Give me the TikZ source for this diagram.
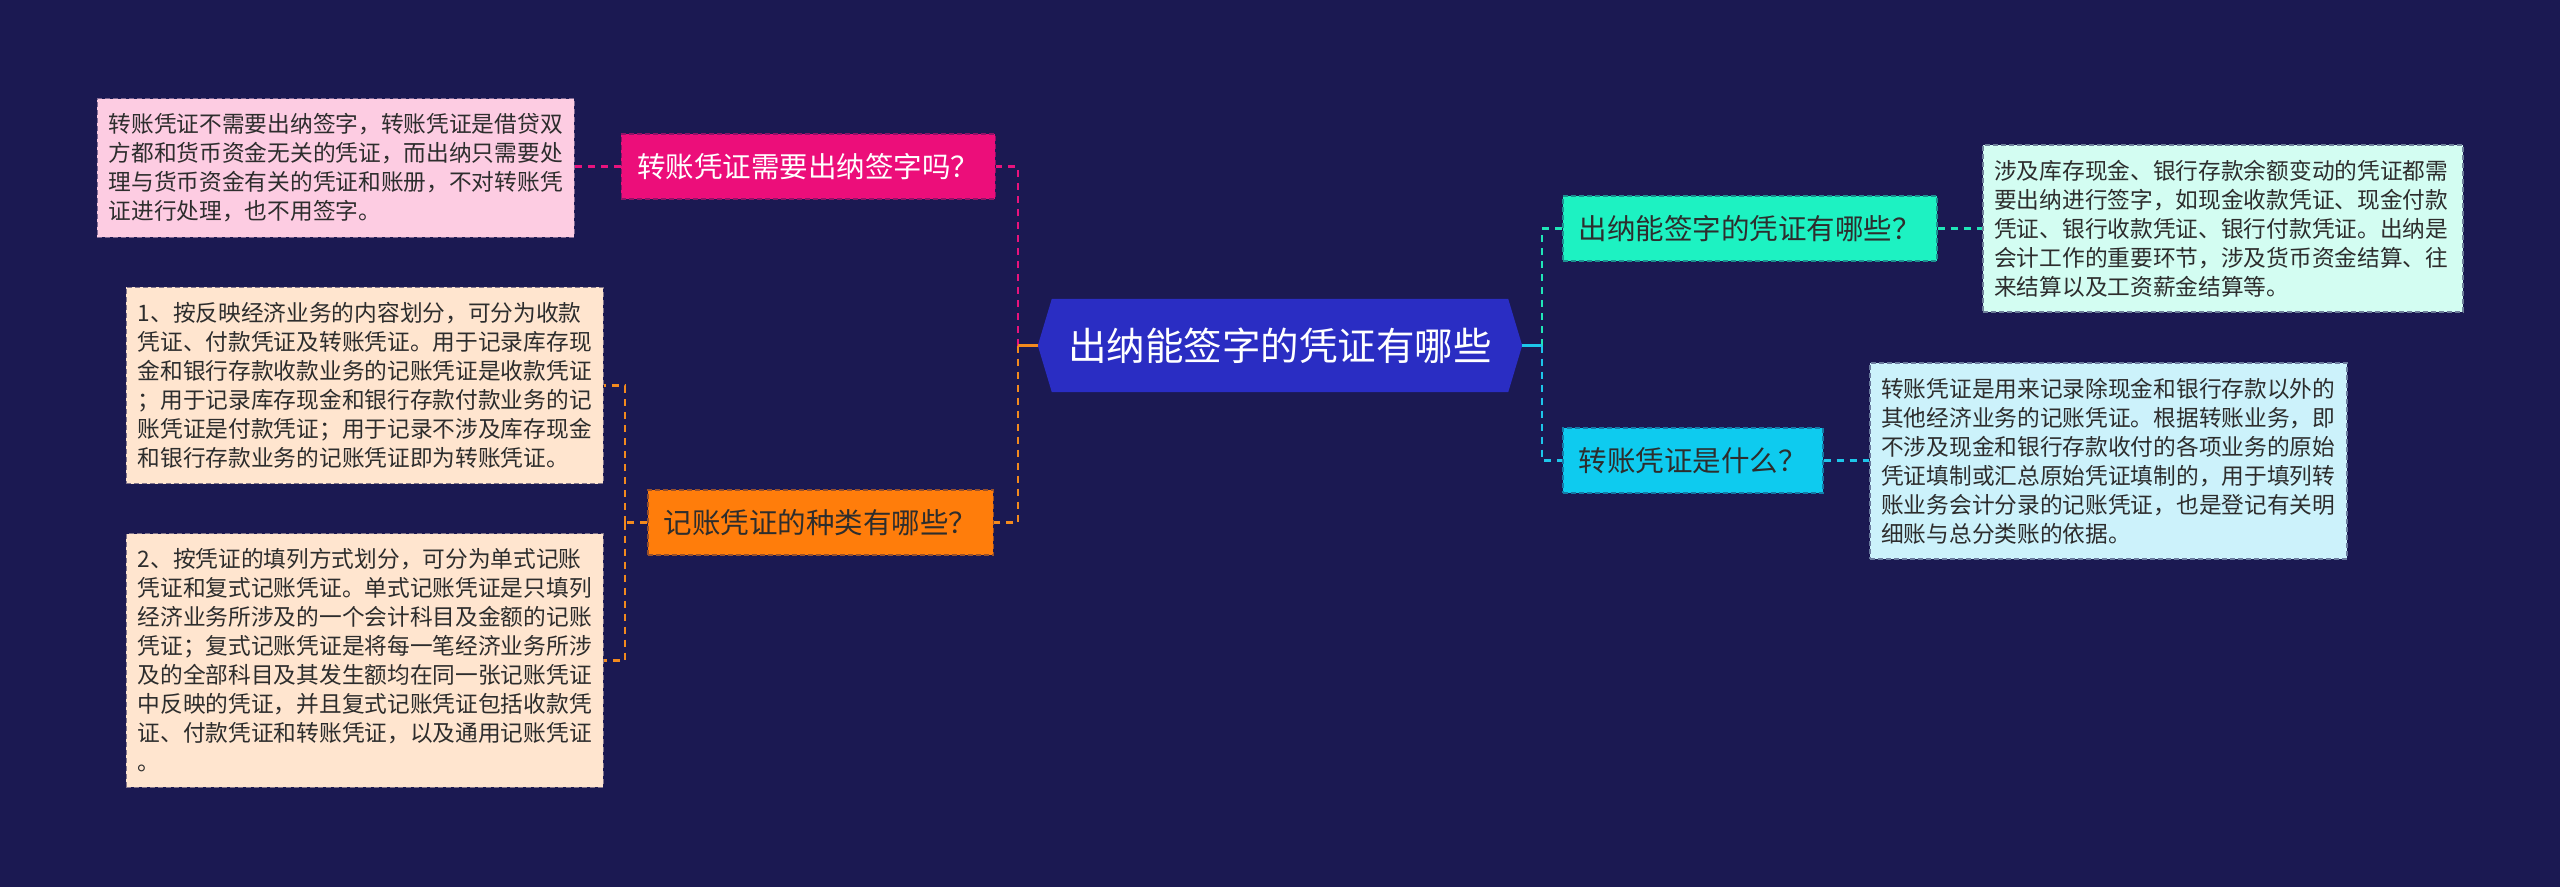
\documentclass[tikz,border=0pt]{standalone}
\usepackage{fontspec}
\setmainfont{Noto Sans CJK SC}
\usetikzlibrary{backgrounds}
\definecolor{bgc}{RGB}{27,25,82}
\definecolor{hexc}{RGB}{42,45,195}
\definecolor{pinkq}{HTML}{EC0E7A}
\definecolor{pinkt}{HTML}{FDCCE2}
\definecolor{orangeq}{HTML}{FF7D0B}
\definecolor{oranget}{HTML}{FFE5CF}
\definecolor{greenq}{HTML}{1DF2C2}
\definecolor{greent}{HTML}{D3FDF2}
\definecolor{cyanq}{HTML}{0ECBEF}
\definecolor{cyant}{HTML}{CCF2FB}
\definecolor{lpink}{HTML}{E8137D}
\definecolor{lorange}{HTML}{F28A1E}
\definecolor{lteal}{HTML}{20E6B8}
\definecolor{lcyan}{HTML}{1DC6EA}
\definecolor{txt}{HTML}{2D2D2D}
\tikzset{
  tbox/.style={fill=#1, draw=#1!45!bgc, dash pattern=on 5pt off 3pt, line width=1.5pt,
    text=txt, align=left, text width=454pt, inner xsep=11.5pt, inner ysep=15pt,
    font=\fontsize{22.7}{29}\selectfont},
  qbox/.style={fill=#1, draw=#1!55!bgc, dash pattern=on 5pt off 3pt, line width=1.5pt,
    minimum height=65pt, inner xsep=16pt, inner ysep=0pt, text=txt,
    font=\fontsize{28.5}{34}\selectfont},
  link/.style={line width=2.5pt, dash pattern=on 7pt off 6pt},
  stub/.style={line width=3pt},
  centre/.style={minimum width=456pt, minimum height=93pt, inner sep=0pt, text=white,
    font=\fontsize{38.5}{44}\selectfont}
}
\begin{document}
\begin{tikzpicture}[x=1pt,y=-1pt]
\useasboundingbox (0,0) rectangle (2560,887);

% central
\node[centre] (c) at (1280,345.5) {出纳能签字的凭证有哪些};

% left
\node[qbox=pinkq, text=white, anchor=east] (pq) at (996,166.5) {转账凭证需要出纳签字吗？};
\node[tbox=pinkt, anchor=east] (pt) at (575,168) {转账凭证不需要出纳签字，转账凭证是借贷双\\方都和货币资金无关的凭证，而出纳只需要处\\理与货币资金有关的凭证和账册，不对转账凭\\证进行处理，也不用签字。};
\node[qbox=orangeq, anchor=east] (oq) at (994,522.5) {记账凭证的种类有哪些？};
\node[tbox=oranget, anchor=east] (ot1) at (604,385.5) {1、按反映经济业务的内容划分，可分为收款\\凭证、付款凭证及转账凭证。用于记录库存现\\金和银行存款收款业务的记账凭证是收款凭证\\；用于记录库存现金和银行存款付款业务的记\\账凭证是付款凭证；用于记录不涉及库存现金\\和银行存款业务的记账凭证即为转账凭证。};
\node[tbox=oranget, anchor=east] (ot2) at (604,660.5) {2、按凭证的填列方式划分，可分为单式记账\\凭证和复式记账凭证。单式记账凭证是只填列\\经济业务所涉及的一个会计科目及金额的记账\\凭证；复式记账凭证是将每一笔经济业务所涉\\及的全部科目及其发生额均在同一张记账凭证\\中反映的凭证，并且复式记账凭证包括收款凭\\证、付款凭证和转账凭证，以及通用记账凭证\\。};

% right
\node[qbox=greenq, anchor=west] (gq) at (1562,228.5) {出纳能签字的凭证有哪些？};
\node[tbox=greent, anchor=west, text width=457pt] (gt) at (1982,228.5) {涉及库存现金、银行存款余额变动的凭证都需\\要出纳进行签字，如现金收款凭证、现金付款\\凭证、银行收款凭证、银行付款凭证。出纳是\\会计工作的重要环节，涉及货币资金结算、往\\来结算以及工资薪金结算等。};
\node[qbox=cyanq, anchor=west] (cq) at (1562,460.5) {转账凭证是什么？};
\node[tbox=cyant, anchor=west] (ct) at (1869,461) {转账凭证是用来记录除现金和银行存款以外的\\其他经济业务的记账凭证。根据转账业务，即\\不涉及现金和银行存款收付的各项业务的原始\\凭证填制或汇总原始凭证填制的，用于填列转\\账业务会计分录的记账凭证，也是登记有关明\\细账与总分类账的依据。};

% bus coordinates
\coordinate (lbus) at (1018,345.5);
\coordinate (rbus) at (1542,345.5);
\coordinate (obus) at (625,522.5);

% connectors left
\draw[link, lpink] (lbus) |- (pq.east);
\draw[link, lorange] (lbus) |- (oq.east);
\draw[stub, lorange] (c.west) ++(-14pt,0) coordinate (cw) (cw) -- (lbus);
\draw[link, lpink] (pq.west) -- (pt.east |- pq.west);
\draw[link, lorange] (oq.west) -- (obus);
\draw[link, lorange] (obus) |- (ot1.east);
\draw[link, lorange] (obus) |- (ot2.east);

% connectors right
\draw[link, lteal] (rbus) |- (gq.west);
\draw[link, lcyan] (rbus) |- (cq.west);
\draw[stub, lcyan] (c.east) ++(14pt,0) coordinate (ce) (ce) -- (rbus);
\draw[link, lteal] (gq.east) -- (gt.west |- gq.east);
\draw[link, lcyan] (cq.east) -- (ct.west |- cq.east);

\begin{pgfonlayer}{background}
\fill[bgc] (0,0) rectangle (2560,887);
\fill[hexc] (c.north west) -- (c.north east) -- ([xshift=14pt]c.east) -- (c.south east)
  -- (c.south west) -- ([xshift=-14pt]c.west) -- cycle;
\end{pgfonlayer}
\end{tikzpicture}
\end{document}
